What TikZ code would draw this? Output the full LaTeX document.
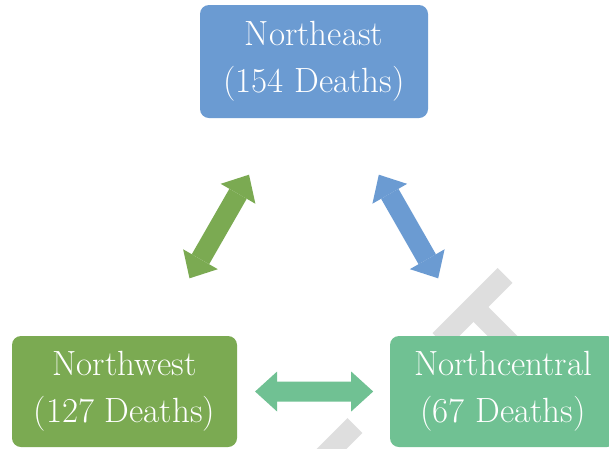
\documentclass[tikz,border=0pt]{standalone}
\usepackage{fontspec}
\setmainfont{Latin Modern Roman}
\usetikzlibrary{arrows.meta,calc}
\definecolor{neblue}{HTML}{6B9BD2}
\definecolor{nwgreen}{HTML}{7BAA52}
\definecolor{ncgreen}{HTML}{70C193}
\definecolor{wmgray}{HTML}{DEDEDE}
\tikzset{
  region/.style={rectangle, rounded corners=9pt, inner sep=0pt, text=white,
    align=center, font=\fontsize{35}{47}\selectfont},
  dblarrow/.style={line width=20pt,
    {Triangle[width=40pt,length=22pt,line width=0pt]}-{Triangle[width=40pt,length=22pt,line width=0pt]}},
  wm/.style={draw=wmgray, line width=21pt, line cap=butt}
}
\begin{document}
\begin{tikzpicture}[x=1pt,y=-1pt]
\useasboundingbox (0,0) rectangle (609,448);
\clip (0,0) rectangle (609,448);
\fill[white] (0,0) rectangle (609,448);
% watermark
\draw[wm] (505,275.5) -- (440,340.5);
\draw[wm] (473.5,307) -- (512,345.5);
\draw[wm] (355,425.5) -- (318,462.5);
% boxes
\node[region, fill=neblue, minimum width=228pt, minimum height=113pt] (ne) at (314,61.5) {Northeast\\(154 Deaths)};
\node[region, fill=nwgreen, minimum width=225pt, minimum height=111pt] (nw) at (124.5,391.5) {Northwest\\(127 Deaths)};
\node[region, fill=ncgreen, minimum width=226pt, minimum height=111pt] (nc) at (503,391.5) {Northcentral\\(67 Deaths)};
% arrows
\draw[dblarrow, nwgreen] ($(ne)!0.343!(nw)$) -- ($(ne)!0.657!(nw)$);
\draw[dblarrow, neblue] ($(ne)!0.343!(nc)$) -- ($(ne)!0.657!(nc)$);
\draw[dblarrow, ncgreen] ($(nw)!0.345!(nc)$) -- ($(nw)!0.657!(nc)$);
\end{tikzpicture}
\end{document}
